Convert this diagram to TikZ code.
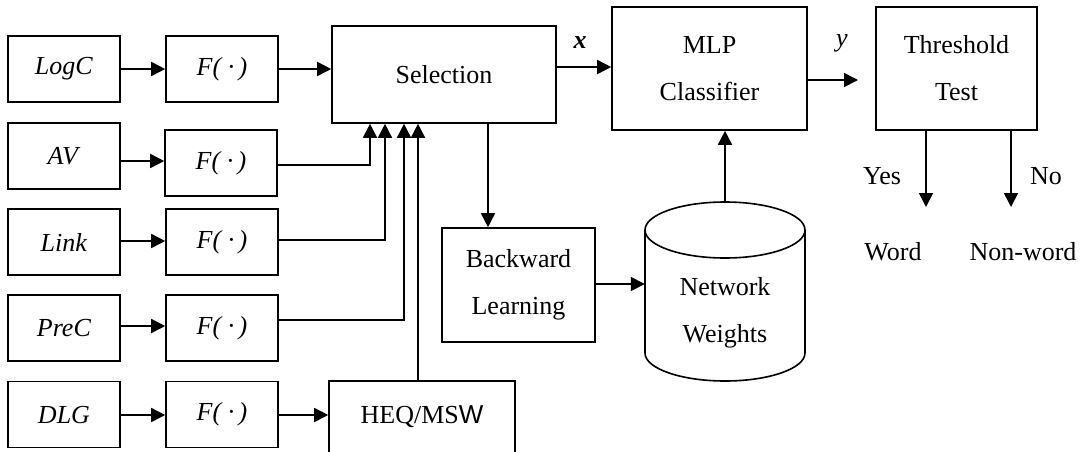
\documentclass[tikz,border=0pt]{standalone}
\usepackage{fontspec}
\setmainfont{Liberation Serif}
\newfontfamily\sansfam{Liberation Sans}
\usetikzlibrary{arrows.meta}
\begin{document}
\begin{tikzpicture}[x=1pt,y=-1pt,
  every node/.style={font=\fontsize{26}{47}\selectfont, inner sep=0pt, align=center},
  box/.style={draw, line width=1.6pt},
  inbox/.style={box, minimum width=112pt, minimum height=66pt},
  fbox/.style={box, minimum width=112pt, minimum height=66pt},
  conn/.style={line width=1.6pt},
  arr/.style={line width=1.6pt, -{Triangle[length=14pt,width=14pt]}}]
\useasboundingbox (0,0) rectangle (1087,451);
\clip (0,0) rectangle (1087,451);

% feature inputs
\node[inbox] (logc) at (64,69)  {\textit{LogC}};
\node[inbox] (av)   at (64,156) {\textit{AV}};
\node[inbox] (link) at (64,242) {\textit{Link}};
\node[inbox] (prec) at (64,328) {\textit{PreC}};
\node[inbox] (dlg)  at (64,414.5) {\textit{DLG}};

% transforms
\node[fbox] (f1) at (222,69)    {\textit{F(~·\,)}};
\node[fbox] (f2) at (221,163)   {\textit{F(~·\,)}};
\node[fbox] (f3) at (222,242)   {\textit{F(~·\,)}};
\node[fbox] (f4) at (222,328)   {\textit{F(~·\,)}};
\node[fbox] (f5) at (222,414.5) {\textit{F(~·\,)}};

% processing blocks
\node[box, minimum width=224pt, minimum height=97pt] (sel) at (444,74.5) {Selection};
\node[box, minimum width=186pt, minimum height=72pt] (heq) at (422,417) {HEQ/MS{\sansfam W}};
\node[box, minimum width=195pt, minimum height=123pt] (mlp) at (709.5,68.5) {MLP\\Classifier};
\node[box, minimum width=161pt, minimum height=123pt] (thr) at (956.5,68.5) {Threshold\\Test};
\node[box, minimum width=153pt, minimum height=114pt] (bl) at (518.5,285) {Backward\\Learning};

% weight store (cylinder)
\draw[conn] (725,230) ellipse [x radius=80, y radius=28];
\draw[conn] (645,230) -- (645,353) arc [start angle=180, end angle=360, x radius=80, y radius=-28] -- (805,230);
\node[minimum width=160pt, minimum height=179pt] (cyl) at (725,291.5) {};
\node at (725,313) {Network\\Weights};

% input chain
\draw[arr] (logc) -- (f1);
\draw[arr] (av.east |- 0,161) -- (f2.west |- 0,161);
\draw[arr] (link.east |- 0,241) -- (f3.west |- 0,241);
\draw[arr] (prec.east |- 0,326) -- (f4.west |- 0,326);
\draw[arr] (dlg.east |- 0,415) -- (f5.west |- 0,415);
\draw[arr] (f1) -- (sel.west |- f1);
\draw[arr] (f5.east |- 0,415) -- (heq.west |- 0,415);

% gathered into selection
\draw[arr] (f2.east |- 0,165) -| (sel.south -| 370,0);
\draw[arr] (f3.east |- 0,240) -| (sel.south -| 385,0);
\draw[arr] (f4.east |- 0,320) -| (sel.south -| 404,0);
\draw[arr] (heq.north -| 418,0) -- (sel.south -| 418,0);

% classifier path
\draw[arr] (sel.east |- 0,67) -- (mlp.west |- 0,67);
\node (xl) at (580,43) {\textbf{\textit{x}}};
\coordinate (yend) at (858,80);
\draw[arr] (mlp.east |- yend) -- (yend);
\node (yl) at (842,43) {\textit{y}};

% training loop
\draw[arr] (sel.south -| 488,0) -- (bl.north -| 488,0);
\draw[arr] (bl.east |- 0,284) -- (cyl.west |- 0,284);
\draw[arr] (cyl.north) -- (cyl.north |- mlp.south);

% decision
\coordinate (yesend) at (926,207);
\coordinate (noend) at (1011,207);
\draw[arr] (thr.south -| yesend) -- (yesend);
\draw[arr] (thr.south -| noend) -- (noend);
\node (yes) at (882,176) {Yes};
\node (no) at (1046,176) {No};
\node (word) at (893,252) {Word};
\node (nonword) at (1023,252) {Non-word};
\end{tikzpicture}
\end{document}
